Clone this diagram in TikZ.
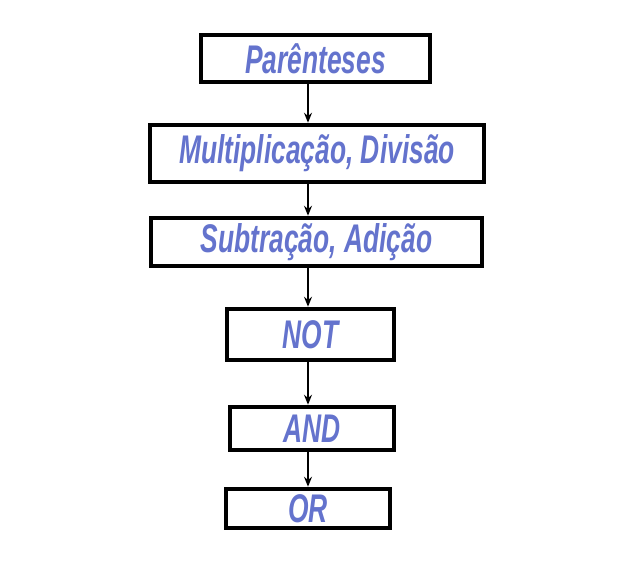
\documentclass[tikz,border=0pt]{standalone}
\usepackage{fontspec}
\setmainfont{Liberation Sans}[FakeStretch=0.66]
\usepackage{xcolor}
\definecolor{Col1}{RGB}{100,115,205}
\usepackage{tikz}
\usetikzlibrary{arrows.meta}
\tikzstyle{Box}=[rectangle,draw=black,line width=4.5pt,inner sep=0pt,
text=Col1,font=\fontsize{40}{40}\selectfont\bfseries\itshape]
\tikzstyle{Edge}=[draw=black,line width=1.5pt,-{Stealth[length=10pt,width=8pt]}]
\begin{document}
\begin{tikzpicture}[x=1pt,y=-1pt]
        \useasboundingbox(0,0)rectangle(625,578);
        \node[Box,minimum width=229pt,minimum height=47pt](par)at(315.5,58.5)
            {Parênteses};
        \node[Box,minimum width=334pt,minimum height=57pt](mul)at(317,153.5)
            {Multiplicação, Divisão};
        \node[Box,minimum width=331pt,minimum height=48pt](sub)at(316.5,242)
            {Subtração, Adição};
        \node[Box,minimum width=167pt,minimum height=51pt](not)at(310.5,334.5)
            {NOT};
        \node[Box,minimum width=164pt,minimum height=43pt](and)at(312,428.5)
            {AND};
        \node[Box,minimum width=164pt,minimum height=39pt](or)at(308,508.5)
            {OR};
        \coordinate(axis)at(308,0);
        \draw[Edge](par.south-|axis)--(mul.north-|axis);
        \draw[Edge](mul.south-|axis)--(sub.north-|axis);
        \draw[Edge](sub.south-|axis)--(not.north-|axis);
        \draw[Edge](not.south-|axis)--(and.north-|axis);
        \draw[Edge](and.south-|axis)--(or.north-|axis);
    \end{tikzpicture}
\end{document}
